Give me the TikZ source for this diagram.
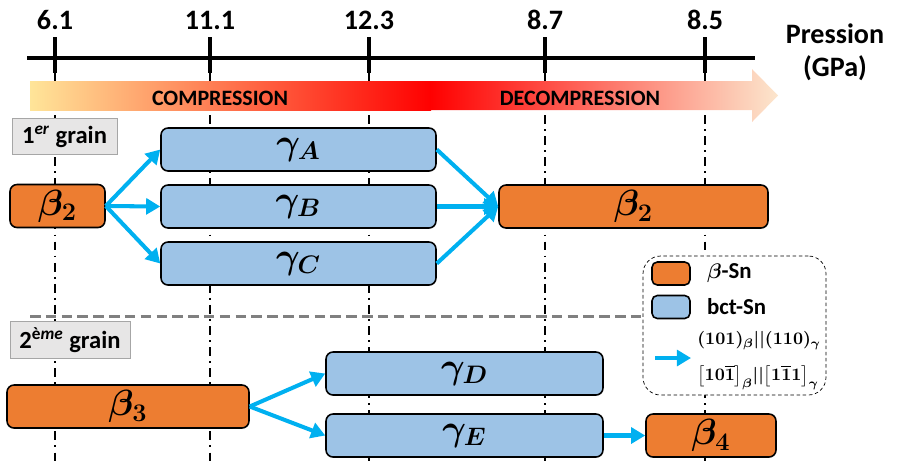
\documentclass[tikz,border=0pt]{standalone}
\usepackage{bm}
\usepackage{amsmath}
\usepackage{fontspec}
\setmainfont{Carlito}
\usepackage{tikz}
\usetikzlibrary{arrows.meta, calc, positioning}

\DeclareMathSizes{20}{20}{15}{12}

\definecolor{betaorange}{RGB}{237,125,49}
\definecolor{gammablue}{RGB}{157,195,230}
\definecolor{arrowcyan}{RGB}{0,176,240}
\definecolor{gradyellow}{RGB}{255,229,153}
\definecolor{gradorange}{RGB}{244,170,125}
\definecolor{gradpeach}{RGB}{252,230,205}
\definecolor{grainfill}{RGB}{231,230,230}

\begin{document}
\begin{tikzpicture}[
    % One unit = one pixel of the target, y pointing down
    x=0.02cm,
    y=-0.02cm,
    >={Triangle[length=8pt, width=9pt]},
    phase/.style={draw=black, line width=0.9pt, rounded corners=4pt, inner sep=0pt,
        minimum height=0.86cm, font=\boldmath\fontsize{20}{22}\selectfont},
    betabox/.style={phase, fill=betaorange},
    gammabox/.style={phase, fill=gammablue},
    grainbox/.style={draw=gray!70, fill=grainfill, inner sep=0pt, minimum height=0.73cm,
        font=\bfseries\fontsize{14}{16}\selectfont},
    trans/.style={->, arrowcyan, line width=2.3pt},
    guide/.style={black, thick, dash pattern=on 5pt off 3pt on 1pt off 3pt},
    swatch/.style={draw=black, line width=0.9pt, rounded corners=3pt, inner sep=0pt,
        minimum width=0.76cm, minimum height=0.46cm}
]
    \useasboundingbox (0,0) rectangle (898,461);

    % --- Pressure axis with ticks and guide lines ---
    \foreach \x/\p in {55/6.1, 210/11.1, 369/12.3, 545/8.7, 705/8.5} {
        \draw[guide] (\x,73) -- (\x,461);
        \draw[line width=2.3pt] (\x,37) -- (\x,73);
        \node[font=\bfseries\fontsize{16}{18}\selectfont] (p\x) at (\x,20) {\p};
    }
    \draw[line width=2.3pt] (27,58) -- (755,58);
    \node[align=center, font=\bfseries\fontsize{16}{19}\selectfont] (unit) at (835,52)
        {Pression\\(GPa)};

    % --- Compression / decompression arrow ---
    \shade[left color=gradyellow, middle color=gradorange, right color=red]
        (30,81) rectangle (431,110);
    \shade[left color=red, right color=gradpeach]
        (430,81) -- (752,81) -- (752,69) -- (778,95.5) -- (752,122) -- (752,110) -- (430,110) -- cycle;
    \node[font=\bfseries\fontsize{12.5}{14}\selectfont] (comp) at (220,98) {COMPRESSION};
    \node[font=\bfseries\fontsize{12.5}{14}\selectfont] (decomp) at (580,98) {DECOMPRESSION};

    % --- First grain ---
    \node[grainbox, minimum width=2.1cm] (grainA) at (64.5,136.5) {1\textsuperscript{\textit{er}} grain};
    \node[betabox, minimum width=1.9cm] (b2a) at (57.5,206) {$\beta_2$};
    \node[gammabox, minimum width=5.5cm] (gA) at (298.5,149.5) {$\gamma_A$};
    \node[gammabox, minimum width=5.5cm] (gB) at (298.5,206.5) {$\gamma_B$};
    \node[gammabox, minimum width=5.5cm] (gC) at (298.5,263.5) {$\gamma_C$};
    \node[betabox, minimum width=5.38cm] (b2b) at (633.5,206.5) {$\beta_2$};

    \foreach \g in {gA, gB, gC} {
        \draw[trans] (b2a.east) -- (\g.west);
        \draw[trans] (\g.east) -- (b2b.west);
    }

    % --- Legend ---
    \node[draw, dash pattern=on 2pt off 1.5pt, rounded corners=10pt, fill=white,
        minimum width=3.66cm, minimum height=2.78cm] (legend) at (734.5,325.5) {};
    \node[swatch, fill=betaorange] (legO) at (671,273.5) {};
    \node[swatch, fill=gammablue] (legB) at (671,307) {};
    \node[right=0.2cm of legO, font=\bfseries\boldmath\fontsize{13}{15}\selectfont] (legOt) {$\beta$-Sn};
    \node[right=0.2cm of legB, font=\bfseries\fontsize{13}{15}\selectfont] (legBt) {bct-Sn};
    \coordinate (legA1) at (655,358);
    \coordinate (legA2) at (691,358);
    \draw[trans] (legA1) -- (legA2);
    \node[anchor=south west, inner sep=0pt, font=\boldmath\fontsize{10}{12}\selectfont] (legAt1) at (697,350)
        {$(101)_{\beta}||(110)_{\gamma}$};
    \node[anchor=north west, inner sep=0pt, font=\boldmath\fontsize{10}{12}\selectfont] (legAt2) at (697,365)
        {$\bigl[10\overline{1}\bigr]_{\beta}||\bigl[1\overline{1}1\bigr]_{\gamma}$};

    % --- Separator between the grains ---
    \coordinate (sepL) at (30,316);
    \draw[gray, line width=1.7pt, dash pattern=on 6pt off 3pt] (sepL) -- (sepL -| legend.west);

    % --- Second grain ---
    \node[grainbox, minimum width=2.4cm] (grainB) at (70,340) {2\textsuperscript{è\textit{me}} grain};
    \node[betabox, minimum width=4.84cm] (b3) at (128,406.5) {$\beta_3$};
    \node[gammabox, minimum width=5.54cm] (gD) at (464.5,373.5) {$\gamma_D$};
    \node[gammabox, minimum width=5.54cm] (gE) at (464.5,435.5) {$\gamma_E$};
    \node[betabox, minimum width=2.6cm] (b4) at (711,435.5) {$\beta_4$};

    \draw[trans] (b3.east) -- (gD.west);
    \draw[trans] (b3.east) -- (gE.west);
    \draw[trans] (gE.east) -- (b4.west);
\end{tikzpicture}
\end{document}
